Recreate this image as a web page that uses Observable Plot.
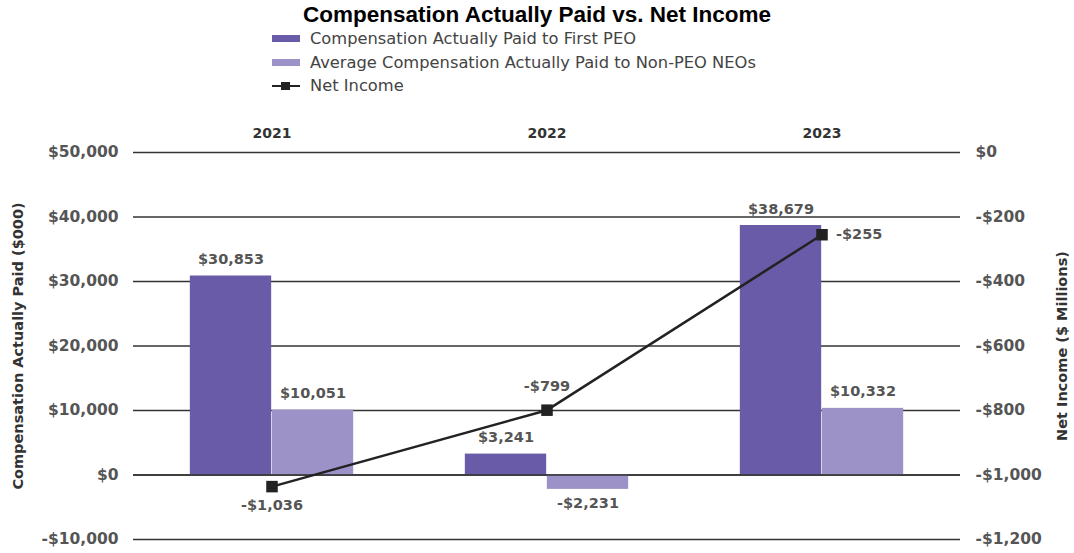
<!DOCTYPE html>
<html><head><meta charset="utf-8">
<script src="https://cdn.jsdelivr.net/npm/d3@7"></script>
<script src="https://cdn.jsdelivr.net/npm/@observablehq/plot@0.6"></script>
<style>
body{margin:0;background:#fff;width:1074px;height:553px;overflow:hidden;font-family:"DejaVu Sans",sans-serif;}
#title{position:absolute;left:0;top:2px;width:1074px;text-align:center;font:bold 22.5px "Liberation Sans",Arial,sans-serif;color:#000;}
#legend{position:absolute;left:272px;top:27px;font:16.3px "DejaVu Sans",sans-serif;color:#444;}
.li{height:23.5px;display:flex;align-items:center;}
.sw{width:28px;height:7px;margin-right:10px;}
#chart{position:absolute;left:0;top:100px;}
</style></head>
<body>
<div id="title">Compensation Actually Paid vs. Net Income</div>
<div id="legend"></div>
<div id="chart"></div>
<script>
const years = ["2021", "2022", "2023"];
const peo = [30853, 3241, 38679];
const nonPeo = [10051, -2231, 10332];
const netIncome = [-1036, -799, -255];
const seriesNames = ["Compensation Actually Paid to First PEO", "Average Compensation Actually Paid to Non-PEO NEOs", "Net Income"];
const axisTitles = ["Compensation Actually Paid ($000)", "Net Income ($ Millions)"];
const colors = ["#6a5ba8", "#9c92c8", "#222222"];
const leftDomain = [-10000, 50000];
const rightDomain = [-1200, 0];
const leftTicks = [-10000, 0, 10000, 20000, 30000, 40000, 50000];

// linear map between right axis (net income) and left axis
const toLeft = n => leftDomain[0] + (n - rightDomain[0]) * (leftDomain[1] - leftDomain[0]) / (rightDomain[1] - rightDomain[0]);
const toRight = v => rightDomain[0] + (v - leftDomain[0]) * (rightDomain[1] - rightDomain[0]) / (leftDomain[1] - leftDomain[0]);
const money = v => (v < 0 ? "-$" : "$") + d3.format(",")(Math.abs(Math.round(v)));

const peoRows = years.map((y, i) => ({year: y, value: peo[i]}));
const nonRows = years.map((y, i) => ({year: y, value: nonPeo[i]}));
const line = years.map((y, i) => ({year: y, ni: netIncome[i], v: toLeft(netIncome[i])}));

// legend
const lg = document.getElementById("legend");
seriesNames.forEach((s, i) => {
  const d = document.createElement("div"); d.className = "li";
  if (i < 2) {
    d.innerHTML = `<span class="sw" style="background:${colors[i]}"></span>${s}`;
  } else {
    d.innerHTML = `<svg width="28" height="10" style="margin-right:10px"><line x1="0" x2="28" y1="5" y2="5" stroke="#222" stroke-width="2"/><rect x="9" y="1" width="9" height="8" fill="#222"/></svg>${s}`;
  }
  lg.appendChild(d);
});

const W = 1074, H = 453, mL = 133, mR = 114;
const band = (W - mL - mR) / years.length;
const barW = 82;
const lab = {fontSize: 14.5, fontWeight: "bold", fill: "#555"};
const pos = rows => rows.filter(d => d.value >= 0);
const neg = rows => rows.filter(d => d.value < 0);

const plot = Plot.plot({
  width: W, height: H,
  marginLeft: mL, marginRight: mR, marginTop: 52, marginBottom: 14,
  style: {fontFamily: "DejaVu Sans, sans-serif", background: "#fff", overflow: "visible"},
  x: {domain: years, padding: 0},
  y: {domain: leftDomain},
  marks: [
    Plot.ruleY(leftTicks, {stroke: "#333", strokeWidth: 1.6}),
    Plot.barY(peoRows, {x: "year", y: "value", fill: colors[0], insetLeft: band / 2 - barW, insetRight: band / 2}),
    Plot.barY(nonRows, {x: "year", y: "value", fill: colors[1], insetLeft: band / 2, insetRight: band / 2 - barW}),
    Plot.ruleY([0], {stroke: "#333", strokeWidth: 1.6}),
    Plot.text(pos(peoRows), {x: "year", y: "value", text: d => money(d.value), dx: -barW / 2, lineAnchor: "bottom", dy: -12, ...lab}),
    Plot.text(pos(nonRows), {x: "year", y: "value", text: d => money(d.value), dx: barW / 2, lineAnchor: "bottom", dy: -12, ...lab}),
    Plot.text(neg(nonRows), {x: "year", y: "value", text: d => money(d.value), dx: barW / 2, lineAnchor: "top", dy: 8, ...lab}),
    Plot.line(line, {x: "year", y: "v", stroke: colors[2], strokeWidth: 2.5}),
    Plot.dot(line, {x: "year", y: "v", symbol: "square", r: 6.5, fill: colors[2]}),
    Plot.text(line.slice(0, 1), {x: "year", y: "v", text: d => money(d.ni), dy: 19, ...lab}),
    Plot.text(line.slice(1, 2), {x: "year", y: "v", text: d => money(d.ni), dy: -24, ...lab}),
    Plot.text(line.slice(2, 3), {x: "year", y: "v", text: d => money(d.ni), dx: 14, textAnchor: "start", ...lab}),
    Plot.axisX({anchor: "top", tickSize: 0, tickPadding: 15, label: null, fontSize: 14, fontWeight: "bold", fill: "#333"}),
    Plot.axisY({anchor: "left", ticks: leftTicks, tickSize: 0, tickPadding: 15, tickFormat: money, ...lab, fontSize: 15.5, label: null}),
    Plot.axisY({anchor: "right", ticks: leftTicks, tickSize: 0, tickPadding: 15, tickFormat: v => money(toRight(v)), ...lab, fontSize: 15.5, label: null}),
    Plot.text([axisTitles[0]], {frameAnchor: "left", textAnchor: "middle", rotate: -90, dx: -115, text: d => d, fontSize: 14.5, fontWeight: "bold", fill: "#333"}),
    Plot.text([axisTitles[1]], {frameAnchor: "right", textAnchor: "middle", rotate: -90, dx: 102, text: d => d, fontSize: 14.5, fontWeight: "bold", fill: "#333"})
  ]
});
document.getElementById("chart").appendChild(plot);
</script>
</body></html>
